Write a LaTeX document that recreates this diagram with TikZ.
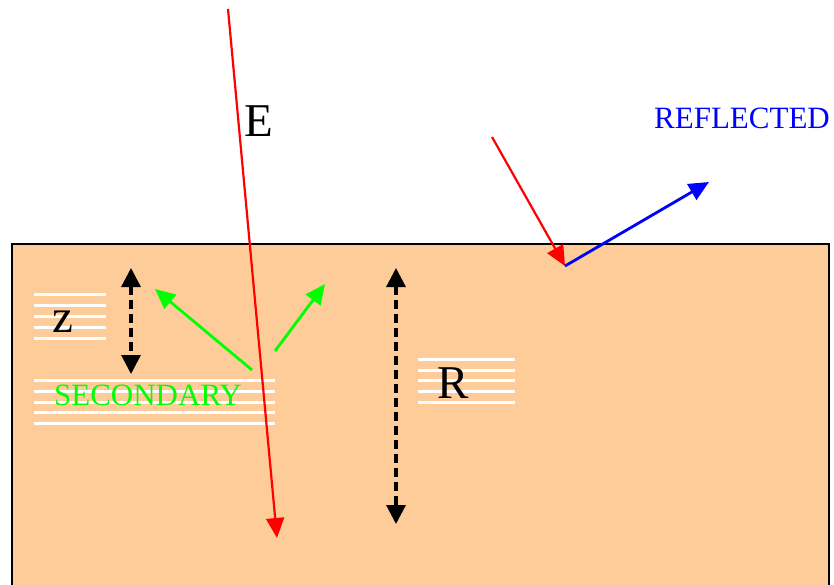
\documentclass[tikz,border=0pt]{standalone}
\usepackage{fontspec}
\setmainfont{Liberation Serif}
\usetikzlibrary{arrows.meta}
\definecolor{slab}{HTML}{FECC99}
\definecolor{ltgreen}{HTML}{00FF00}
\begin{document}
\begin{tikzpicture}[x=1pt,y=-1pt,
  ray/.style={line width=2.2pt,-{Triangle[length=20pt,width=18pt]}},
  gap/.style={black,line width=3.2pt,dash pattern=on 9pt off 5pt,{Triangle[length=19pt,width=19pt]}-{Triangle[length=19pt,width=19pt]}},
  layer/.style={white,line width=3pt},
  bigtext/.style={inner sep=0pt,font=\fontsize{47}{47}\selectfont},
  smalltext/.style={inner sep=0pt,font=\fontsize{31}{31}\selectfont}]
\useasboundingbox (0,0) rectangle (834,585);
\draw[fill=slab,line width=1.5pt] (12,600) -- (12,244) -- (829,244) -- (829,600);
% layers
\foreach \y in {294,305,316,327,338} \draw[layer] (34,\y) -- (106,\y);
\foreach \y in {380,391,402,412,423} \draw[layer] (34,\y) -- (275,\y);
\foreach \y in {359,370,380,391,402} \draw[layer] (418,\y) -- (515,\y);
% labels
\node[bigtext] (zlab) at (63,322) {z};
\node[bigtext] (rlab) at (453,383) {R};
\node[bigtext] (elab) at (259,121) {E};
\node[smalltext,text=ltgreen] (seclab) at (148,395) {SECONDARY};
\node[smalltext,text=blue] (reflab) at (742,118) {REFLECTED};
% points
\coordinate (esrc) at (228,9);
\coordinate (edeep) at (277,538);
\coordinate (isrc) at (492,137);
\coordinate (hit) at (565,266);
\coordinate (rtip) at (709,182);
\coordinate (g1src) at (252,370);
\coordinate (g1tip) at (155,289);
\coordinate (g2src) at (275,351);
\coordinate (g2tip) at (325,284);
\coordinate (ztop) at (131,268);
\coordinate (zbot) at (131,374);
\coordinate (rtop) at (396,268);
\coordinate (rbot) at (396,524);
% rays
\draw[ray,red] (esrc) -- (edeep);
\draw[ray,red] (isrc) -- (hit);
\draw[ray,blue,line width=2.8pt] (hit) -- (rtip);
\draw[ray,ltgreen,line width=2.8pt] (g1src) -- (g1tip);
\draw[ray,ltgreen,line width=2.8pt] (g2src) -- (g2tip);
% depths
\draw[gap] (ztop) -- (zbot);
\draw[gap] (rtop) -- (rbot);
\end{tikzpicture}
\end{document}
